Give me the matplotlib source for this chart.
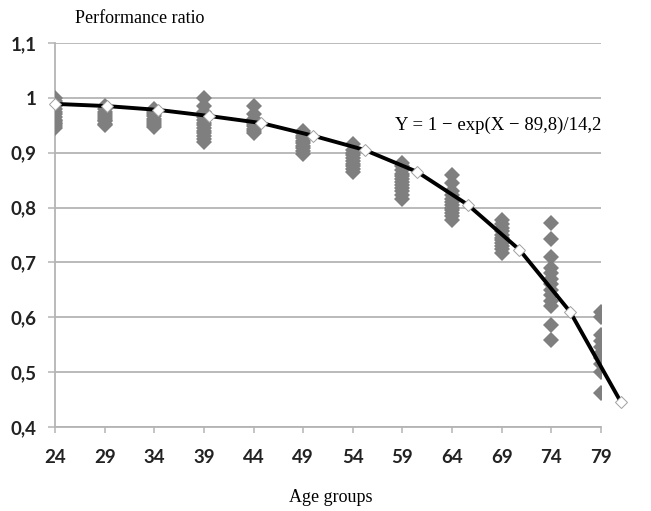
import matplotlib
matplotlib.use('Agg')
import matplotlib.pyplot as plt

# age groups on the x axis
ages = [24, 29, 34, 39, 44, 49, 54, 59, 64, 69, 74, 79]

# performance ratio values per age group
g24 = [1.0, 0.995, 0.99, 0.985, 0.98, 0.975, 0.97, 0.965, 0.96, 0.958, 0.955, 0.952, 0.948, 0.945]
g29 = [0.985, 0.98, 0.975, 0.97, 0.967, 0.963, 0.96, 0.957, 0.953, 0.95]
g34 = [0.98, 0.975, 0.97, 0.966, 0.962, 0.958, 0.955, 0.951, 0.947]
g39 = [1.0, 0.985, 0.975, 0.97, 0.965, 0.96, 0.955, 0.95, 0.945, 0.94, 0.935, 0.93, 0.925, 0.92]
g44 = [0.985, 0.97, 0.962, 0.957, 0.952, 0.948, 0.944, 0.94, 0.935]
g49 = [0.94, 0.935, 0.93, 0.926, 0.922, 0.918, 0.913, 0.908, 0.903, 0.898]
g54 = [0.915, 0.905, 0.9, 0.895, 0.89, 0.885, 0.88, 0.875, 0.87, 0.865]
g59 = [0.882, 0.875, 0.868, 0.862, 0.857, 0.852, 0.847, 0.842, 0.836, 0.83, 0.822, 0.815]
g64 = [0.86, 0.845, 0.83, 0.822, 0.815, 0.81, 0.805, 0.8, 0.795, 0.79, 0.785, 0.778]
g69 = [0.778, 0.77, 0.763, 0.757, 0.75, 0.745, 0.74, 0.735, 0.73, 0.724, 0.718]
g74 = [0.772, 0.743, 0.71, 0.69, 0.68, 0.67, 0.66, 0.65, 0.64, 0.63, 0.62, 0.586, 0.559]
g79 = [0.61, 0.6, 0.567, 0.557, 0.545, 0.535, 0.525, 0.515, 0.5, 0.462]
groups = [g24, g29, g34, g39, g44, g49, g54, g59, g64, g69, g74, g79]

# fitted curve points
fit_x = [24, 29.2, 34.4, 39.5, 44.8, 50.0, 55.2, 60.5, 65.6, 70.8, 75.9, 81.0]
fit_y = [0.989, 0.985, 0.978, 0.967, 0.954, 0.931, 0.905, 0.865, 0.805, 0.723, 0.61, 0.446]

y_ticks = [0.4, 0.5, 0.6, 0.7, 0.8, 0.9, 1.0, 1.1]
y_labels = ['0,4', '0,5', '0,6', '0,7', '0,8', '0,9', '1', '1,1']

grey = '#b4b4b4'
tick_font = ['Lato', 'DejaVu Sans']
serif = ['Liberation Serif', 'DejaVu Serif']

fig = plt.figure(figsize=(6.51, 5.11), dpi=100)
ax = fig.add_axes([0.0845, 0.1644, 0.8385, 0.7515])

for age, vals in zip(ages, groups):
    ax.plot([age] * len(vals), vals, 'D', color='#7f7f7f', markersize=8.2,
            markeredgewidth=0, zorder=3)

ax.plot(fit_x, fit_y, '-', color='black', linewidth=2.8, marker='D',
        markersize=6, markerfacecolor='white', markeredgecolor='#a0a0a0',
        markeredgewidth=0.7, clip_on=False, zorder=4)

ax.set_xlim(24, 79)
ax.set_ylim(0.4, 1.1)
ax.set_xticks(ages)
ax.set_xticklabels([str(a) for a in ages], family=tick_font,
                   fontweight='bold', fontsize=13.5, color='#222222')
ax.set_yticks(y_ticks)
ax.set_yticklabels(y_labels, family=tick_font, fontweight='bold',
                   fontsize=13.5, color='#222222')
ax.tick_params(axis='x', length=4, width=1.1, color=grey, pad=12)
ax.tick_params(axis='y', length=5, width=1.1, color=grey, pad=8)

ax.grid(axis='y', color=grey, linewidth=1.3)
ax.set_axisbelow(True)
for s in ['top', 'right']:
    ax.spines[s].set_visible(False)
for s in ['left', 'bottom']:
    ax.spines[s].set_color(grey)
    ax.spines[s].set_linewidth(1.3)

fig.text(0.115, 0.963, 'Performance ratio', family=serif, fontsize=13,
         ha='left', va='center')
fig.text(0.508, 0.027, 'Age groups', family=serif, fontsize=13,
         ha='center', va='center')
fig.text(0.607, 0.755, 'Y = 1 \u2212 exp(X \u2212 89,8)/14,2', family=serif,
         fontsize=13.5, ha='left', va='center')

fig.savefig('out.png', dpi=100)
